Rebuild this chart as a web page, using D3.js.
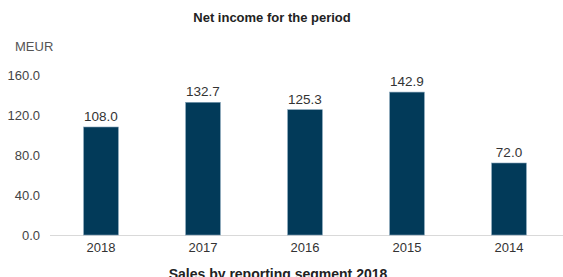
<!DOCTYPE html>
<html><head><meta charset="utf-8">
<script src="https://cdn.jsdelivr.net/npm/d3@7"></script>
<style>body{margin:0;background:#fff}svg{display:block}text{font-family:"Liberation Sans",Arial,sans-serif}</style>
</head><body>
<script>
const categories = ["2018","2017","2016","2015","2014"];
const values = [108.0,132.7,125.3,142.9,72.0];
const yTicks = [0,40,80,120,160];
const title = "Net income for the period";
const unit = "MEUR";
const nextTitle = "Sales by reporting segment 2018";

const W=563,H=277;
const svg=d3.select("body").append("svg").attr("width",W).attr("height",H);
const x=d3.scaleBand().domain(categories).range([50,560]).paddingInner(0.66).paddingOuter(0.33);
const y=d3.scaleLinear().domain([0,160]).range([235,75]);

svg.append("text").attr("x",272).attr("y",22).attr("text-anchor","middle")
  .attr("font-size",13).attr("font-weight","bold").attr("fill","#222").text(title);
svg.append("text").attr("x",15).attr("y",51).attr("font-size",13).attr("fill","#555").text(unit);

const ya=svg.append("g").attr("transform","translate(40,0)")
  .call(d3.axisLeft(y).tickValues(yTicks).tickFormat(d3.format(".1f")).tickSize(0).tickPadding(0));
ya.select(".domain").remove();
ya.selectAll("text").attr("font-size",13).attr("fill","#444").attr("font-family","Liberation Sans, Arial, sans-serif");

svg.append("line").attr("x1",50).attr("x2",W).attr("y1",y(0)+0.5).attr("y2",y(0)+0.5).attr("stroke","#d9d9d9");

const xa=svg.append("g").attr("transform",`translate(0,${y(0)})`)
  .call(d3.axisBottom(x).tickSize(0).tickPadding(8));
xa.select(".domain").remove();
xa.selectAll("text").attr("font-size",13).attr("fill","#333").attr("font-family","Liberation Sans, Arial, sans-serif");

const data=categories.map((c,i)=>({c,v:values[i]}));
svg.selectAll("rect.bar").data(data).enter().append("rect").attr("class","bar")
  .attr("x",d=>x(d.c)).attr("width",x.bandwidth())
  .attr("y",d=>y(d.v)).attr("height",d=>y(0)-y(d.v))
  .attr("fill","#023a59").attr("stroke","#7f9fb5").attr("stroke-width",0.6);
svg.selectAll("text.val").data(data).enter().append("text").attr("class","val")
  .attr("x",d=>x(d.c)+x.bandwidth()/2).attr("y",d=>y(d.v)-6)
  .attr("text-anchor","middle").attr("font-size",13.5).attr("fill","#333")
  .text(d=>d3.format(".1f")(d.v));

svg.append("text").attr("x",278).attr("y",279).attr("text-anchor","middle")
  .attr("font-size",14).attr("font-weight","bold").attr("fill","#222").text(nextTitle);
</script>
</body></html>
